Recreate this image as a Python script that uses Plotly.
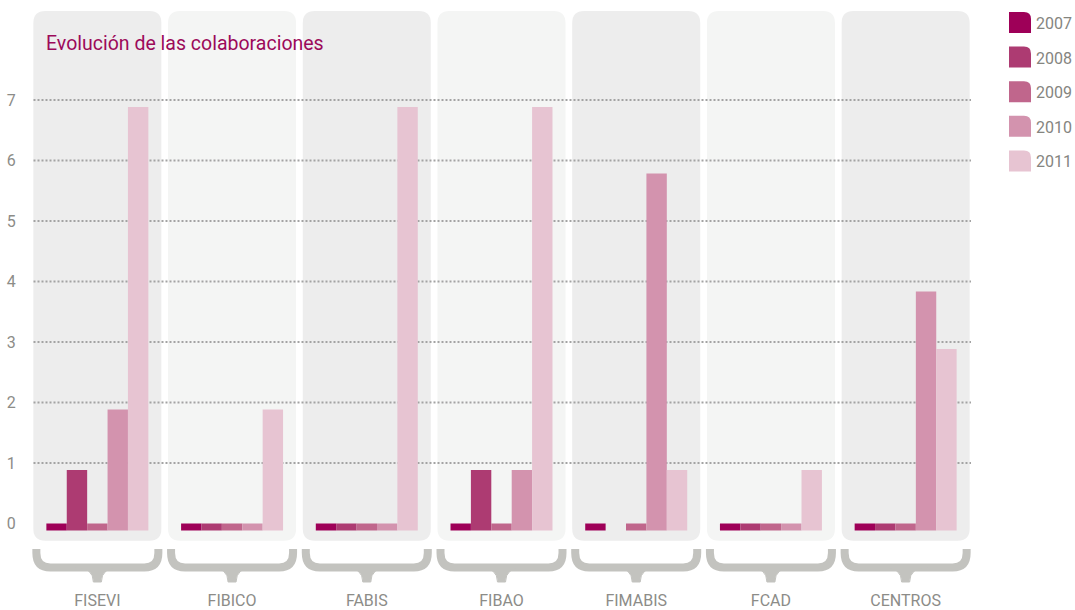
import plotly.graph_objects as go

# ---------------- data ----------------
categories = ["FISEVI", "FIBICO", "FABIS", "FIBAO", "FIMABIS", "FCAD", "CENTROS"]
years = ["2007", "2008", "2009", "2010", "2011"]
v2007 = [0, 0, 0, 0, 0, 0, 0]
v2008 = [1, 0, 0, 1, None, 0, 0]
v2009 = [0, 0, 0, 0, 0, 0, 0]
v2010 = [2, 0, 0, 1, 5.9, 0, 3.95]
v2011 = [7, 2, 7, 7, 1, 1, 3]
y_ticks = [0, 1, 2, 3, 4, 5, 6, 7]
title_text = "Evolución de las colaboraciones"

# ---------------- style ----------------
series = [v2007, v2008, v2009, v2010, v2011]
colors = ["#9e0058", "#ad3b72", "#c0668c", "#d393ae", "#e7c4d2"]
panel_colors = ["#ededed", "#f4f5f4"]
brace_color = "#c3c3bf"
grid_color = "#a3a3a3"
tick_color = "#8c8c88"
title_color = "#9c0a5a"
FONT = "Roboto"

W, H = 1075, 610
ML, MR, MT, MB = 30, 102, 11, 25
PW, PH = W - ML - MR, H - MT - MB
X_RANGE = [-0.5, len(categories) - 0.5]
Y_RANGE = [-1.0165, 8.471]
PX_X = PW / (X_RANGE[1] - X_RANGE[0])      # px per x unit
PX_Y = PH / (Y_RANGE[1] - Y_RANGE[0])      # px per y unit
BAR_BASE = -7 / PX_Y                       # bars hang slightly below the 0 line
ZERO_STUB = -BAR_BASE                      # zero values shown as small stubs

def dx(px):
    return px / PX_X

def dy(px):
    return px / PX_Y

def paper_x(px):
    return (px - ML) / PW

def paper_y(py):
    return (MT + PH - py) / PH

def rrect(x0, x1, y0, y1, rx, ry):
    return (f"M{x0+rx},{y0} L{x1-rx},{y0} Q{x1},{y0} {x1},{y0+ry} "
            f"L{x1},{y1-ry} Q{x1},{y1} {x1-rx},{y1} L{x0+rx},{y1} "
            f"Q{x0},{y1} {x0},{y1-ry} L{x0},{y0+ry} Q{x0},{y0} {x0+rx},{y0} Z")

fig = go.Figure()
xs = list(range(len(categories)))
for name, vals, col in zip(years, series, colors):
    heights = [None if v is None else (v if v > 0 else ZERO_STUB) for v in vals]
    fig.add_trace(go.Bar(
        x=xs, y=heights, base=BAR_BASE, name=name,
        marker=dict(color=col, line=dict(width=0)),
        customdata=vals,
        hovertemplate="%{customdata}<extra>" + name + "</extra>",
        showlegend=False,
    ))

shapes = []
# panels
half = dx(64)
for i in xs:
    shapes.append(dict(
        type="path", xref="x", yref="y", layer="below",
        path=rrect(i - half, i + half, dy(-17.2), Y_RANGE[1], dx(12), dy(12)),
        fillcolor=panel_colors[i % 2], line=dict(width=0)))
    # brace band
    L, R, C = i - dx(61), i + dx(61), i
    yt, yv, yh = dy(-25.5), dy(-29.5), dy(-44)
    r = dx(14)
    p = (f"M{L:.5f},{yt:.5f} L{L:.5f},{yv:.5f} Q{L:.5f},{yh:.5f} {L+r:.5f},{yh:.5f} "
         f"L{R-r:.5f},{yh:.5f} Q{R:.5f},{yh:.5f} {R:.5f},{yv:.5f} L{R:.5f},{yt:.5f}")
    shapes.append(dict(type="path", xref="x", yref="y", layer="below",
                       path=p, line=dict(color=brace_color, width=8)))
    # brace tip (pointing down)
    ytop, ybot = dy(-44), dy(-58.5)
    w0, w1 = dx(22), dx(4)
    tip = (f"M{C-w0:.5f},{ytop:.5f} Q{C-w1:.5f},{ytop:.5f} {C-w1:.5f},{ybot:.5f} "
           f"L{C+w1:.5f},{ybot:.5f} Q{C+w1:.5f},{ytop:.5f} {C+w0:.5f},{ytop:.5f} Z")
    shapes.append(dict(type="path", xref="x", yref="y", layer="above",
                       path=tip, fillcolor=brace_color,
                       line=dict(color=brace_color, width=1)))

# dotted gridlines (no line at 0), drawn above panels, below bars
for t in y_ticks:
    if t == 0:
        continue
    shapes.append(dict(type="line", xref="x", yref="y", layer="below",
                       x0=X_RANGE[0] + dx(3.5), x1=X_RANGE[1] - dx(2),
                       y0=t, y1=t,
                       line=dict(color=grid_color, width=2, dash="2px,2px")))

# custom legend
annotations = []
for k, (name, col) in enumerate(zip(years, colors)):
    cy = 22.5 + k * 34.6
    x0, x1 = 1009, 1031
    y0, y1 = cy + 10.5, cy - 10.5
    rx, ry = 7 / PW, 7 / PH
    X0, X1, Y0, Y1 = paper_x(x0), paper_x(x1), paper_y(y0), paper_y(y1)
    path = (f"M{X0},{Y0} L{X1},{Y0} L{X1},{Y1-ry} Q{X1},{Y1} {X1-rx},{Y1} "
            f"L{X0},{Y1} Z")
    shapes.append(dict(type="path", xref="paper", yref="paper", layer="above",
                       path=path, fillcolor=col, line=dict(width=0)))
    annotations.append(dict(
        x=paper_x(1034), y=paper_y(cy + 1), xref="paper", yref="paper",
        text=name, showarrow=False, xanchor="left", yanchor="middle",
        font=dict(family=FONT, size=16, color="#85857f")))

annotations.append(dict(
    x=paper_x(44), y=paper_y(44), xref="paper", yref="paper",
    text=title_text, showarrow=False, xanchor="left", yanchor="middle",
    font=dict(family=FONT, size=19.5, color=title_color)))

fig.update_layout(
    width=W, height=H,
    margin=dict(l=ML, r=MR, t=MT, b=MB, pad=0, autoexpand=False),
    paper_bgcolor="white", plot_bgcolor="white",
    barmode="group", bargap=0.243, bargroupgap=0,
    shapes=shapes, annotations=annotations,
    showlegend=False,
    font=dict(family=FONT),
    xaxis=dict(range=X_RANGE, tickvals=xs, ticktext=categories,
               showgrid=False, zeroline=False, showline=False,
               ticks="outside", ticklen=1, tickcolor="rgba(0,0,0,0)",
               tickfont=dict(family=FONT, size=16, color=tick_color),
               automargin=False, fixedrange=True),
    yaxis=dict(range=Y_RANGE, tickvals=y_ticks,
               showgrid=False, zeroline=False, showline=False,
               ticks="outside", ticklen=10, tickcolor="rgba(0,0,0,0)",
               tickfont=dict(family=FONT, size=16, color=tick_color),
               automargin=False, fixedrange=True),
)

fig.write_html("out.html")
